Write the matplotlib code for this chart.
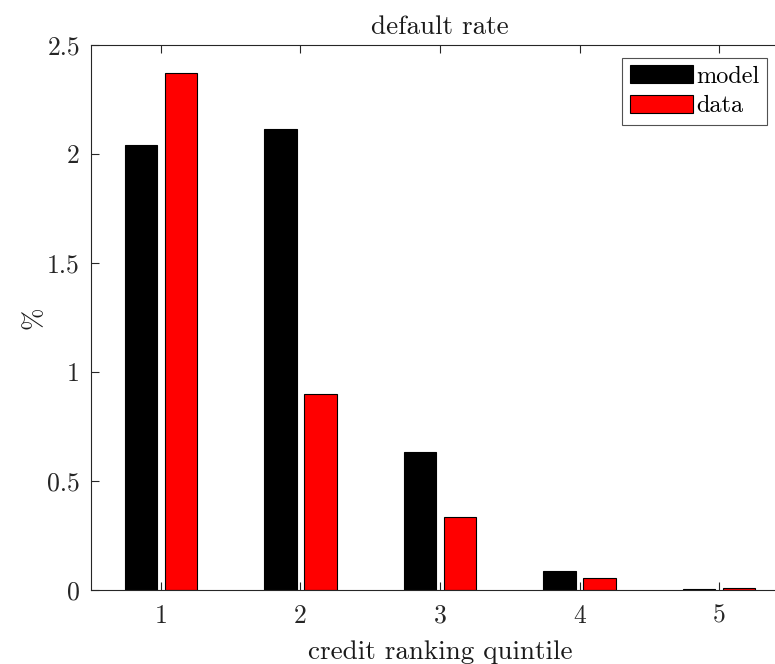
import matplotlib
matplotlib.use("Agg")
import matplotlib.pyplot as plt
import numpy as np

quintiles = [1, 2, 3, 4, 5]
model = [2.04, 2.115, 0.633, 0.089, 0.004]
data = [2.37, 0.899, 0.335, 0.057, 0.009]
yticks = [0, 0.5, 1, 1.5, 2, 2.5]
ytick_labels = ["0", "0.5", "1", "1.5", "2", "2.5"]

plt.rcParams['font.family'] = 'serif'
plt.rcParams['font.serif'] = ['cmr10', 'DejaVu Serif']
plt.rcParams['mathtext.fontset'] = 'cm'
plt.rcParams['axes.unicode_minus'] = False

fig = plt.figure(figsize=(7.75, 6.64), dpi=100)
W, H = 775, 664
left, right, top, bottom = 91, 789, 45, 590
ax = fig.add_axes([left / W, 1 - bottom / H, (right - left) / W, (bottom - top) / H])

x = np.array(quintiles, dtype=float)
off = 0.143
w = 0.232
ax.bar(x - off, model, width=w, color='black', edgecolor='black', linewidth=0.8, label='model')
ax.bar(x + off, data, width=w, color='#ff0000', edgecolor='black', linewidth=0.8, label='data')

ax.set_xlim(0.5, 5.5)
ax.set_ylim(0, 2.5)
ax.set_xticks(quintiles)
ax.set_xticklabels([str(q) for q in quintiles])
ax.set_yticks(yticks)
ax.set_yticklabels(ytick_labels)

spine_col = '#262626'
for s in ax.spines.values():
    s.set_color(spine_col)
    s.set_linewidth(0.8)
ax.tick_params(direction='in', length=6, width=0.8, color=spine_col,
               labelsize=18.5, top=True, right=True, labelcolor='#262626')
ax.tick_params(axis='x', pad=10)
ax.tick_params(axis='y', pad=8)

ax.set_title('default rate', fontsize=19.5, pad=8, color='#1a1a1a')
ax.set_xlabel('credit ranking quintile', fontsize=19.5, labelpad=9, color='#1a1a1a')
ax.set_ylabel('%', fontsize=19.5, labelpad=1, color='#1a1a1a')

leg = ax.legend(loc='upper right', bbox_to_anchor=(767 / W, 1 - 58 / H),
                bbox_transform=fig.transFigure, fontsize=17.5, frameon=True,
                fancybox=False, handlelength=2.6, handleheight=0.75,
                handletextpad=0.15, borderpad=0.3, labelspacing=0.3,
                borderaxespad=0)
leg.get_frame().set_edgecolor('#262626')
leg.get_frame().set_linewidth(0.8)

fig.savefig('out.png', dpi=100)
